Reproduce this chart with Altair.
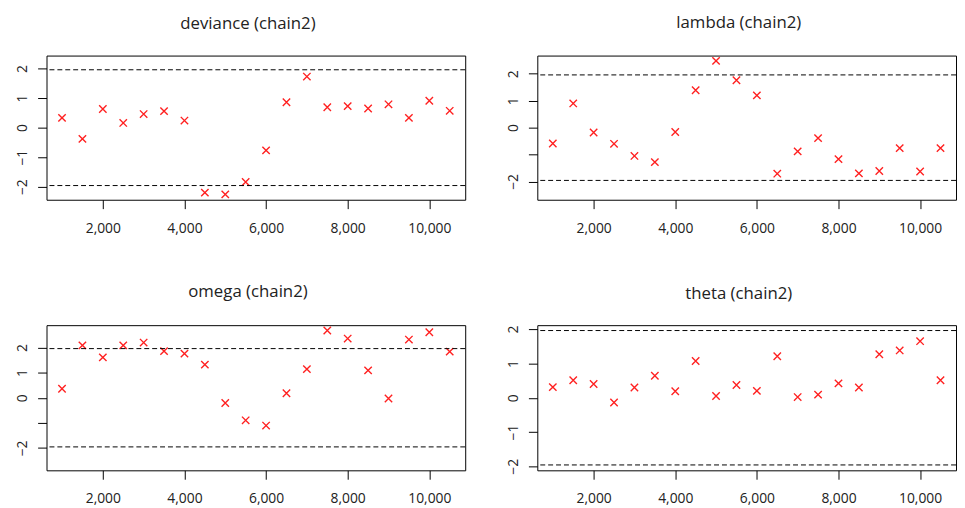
import altair as alt
import pandas as pd

iterations = [1000, 1500, 2000, 2500, 3000, 3500, 4000, 4500, 5000, 5500,
              6000, 6500, 7000, 7500, 8000, 8500, 9000, 9500, 10000, 10500]

z_deviance = [0.33, -0.38, 0.63, 0.16, 0.46, 0.56, 0.24, -2.20, -2.26, -1.84,
              -0.77, 0.86, 1.73, 0.69, 0.73, 0.65, 0.79, 0.33, 0.91, 0.57]
z_lambda = [-0.59, 0.90, -0.18, -0.60, -1.05, -1.28, -0.16, 1.39, 2.48, 1.76,
            1.20, -1.71, -0.88, -0.39, -1.17, -1.70, -1.61, -0.76, -1.63, -0.76]
z_omega = [0.36, 2.09, 1.61, 2.09, 2.20, 1.86, 1.76, 1.32, -0.21, -0.90,
           -1.11, 0.18, 1.14, 2.68, 2.36, 1.09, -0.03, 2.32, 2.61, 1.84]
z_theta = [0.31, 0.51, 0.40, -0.14, 0.30, 0.64, 0.19, 1.07, 0.05, 0.37,
           0.20, 1.21, 0.02, 0.09, 0.42, 0.30, 1.27, 1.38, 1.65, 0.51]

bounds = [-1.96, 1.96]
x_ticks = [2000, 4000, 6000, 8000, 10000]
y_ticks = [-2, -1, 0, 1, 2]

FONT = "Open Sans"
TXT = "#222222"

xr = max(iterations) - min(iterations)
x_domain = [min(iterations) - 0.04 * xr, max(iterations) + 0.04 * xr]


def panel(title, z, hide_m1, height):
    lim = max(max(abs(v) for v in z), 1.96) * 1.08
    ysc = alt.Scale(domain=[-lim, lim], nice=False, zero=False)
    xsc = alt.Scale(domain=x_domain, nice=False, zero=False)
    df = pd.DataFrame({"iter": iterations, "z": z})
    if hide_m1:
        label_expr = "datum.value == -1 ? '' : replace(format(datum.value, 'd'), '-', '\u2212')"
    else:
        label_expr = "replace(format(datum.value, 'd'), '-', '\u2212')"
    yaxis = alt.Axis(values=y_ticks, tickSize=9, labelPadding=8, labelAngle=270,
                     labelAlign="center", labelBaseline="bottom",
                     domain=False, grid=False, labelFont=FONT, labelFontSize=14,
                     labelColor=TXT, tickColor="black", labelExpr=label_expr,
                     labelFlush=False, labelOverlap=False,
                     minExtent=38, maxExtent=38)
    pts = alt.Chart(df).mark_point(
        shape="M-1,-1L1,1M1,-1L-1,1", filled=False, color="#ff2020",
        strokeWidth=1.4, size=56, opacity=1
    ).encode(
        x=alt.X("iter:Q", scale=xsc, title=None,
                axis=alt.Axis(values=x_ticks, labelExpr="format(datum.value, ',')",
                              tickSize=9, labelPadding=13,
                              domain=False, grid=False, labelFont=FONT, labelFontSize=14,
                              labelColor=TXT, tickColor="black", labelFlush=False,
                              minExtent=33, maxExtent=33)),
        y=alt.Y("z:Q", scale=ysc, title=None, axis=yaxis),
    )
    rules = alt.Chart(pd.DataFrame({"z": bounds})).mark_rule(
        color="black", strokeDash=[5, 3], strokeWidth=1
    ).encode(y=alt.Y("z:Q", scale=ysc, title=None, axis=yaxis))
    return alt.layer(pts, rules).properties(
        width=424, height=height,
        title=alt.TitleParams(title, font=FONT, fontSize=17, fontWeight="normal",
                              color=TXT, offset=23, anchor="middle", dx=-8),
    )


row1 = alt.hconcat(panel("deviance (chain2)", z_deviance, False, 146),
                   panel("lambda (chain2)", z_lambda, True, 146), spacing=33)
row2 = alt.hconcat(panel("omega (chain2)", z_omega, True, 147),
                   panel("theta (chain2)", z_theta, False, 147), spacing=33)

chart = alt.vconcat(row1, row2, spacing=47).properties(
    padding={"left": 0, "top": 2, "right": 0, "bottom": 0},
    background="white",
).configure_view(stroke="black", strokeWidth=1)

chart.save("out.html", embed_options={"renderer": "svg", "actions": False})
